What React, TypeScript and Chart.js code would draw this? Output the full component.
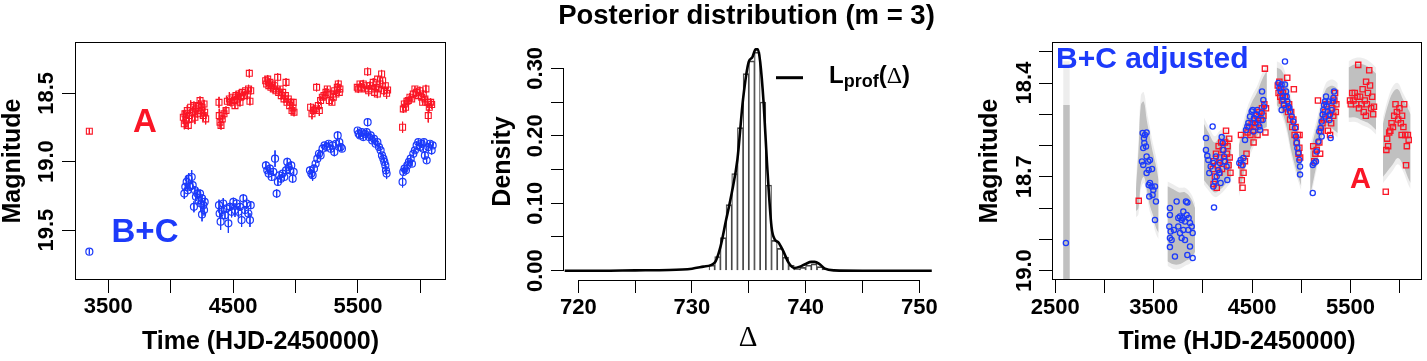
import React, { useEffect, useRef } from 'react';
import { Chart, registerables } from 'chart.js';

Chart.register(...registerables);
Chart.defaults.font.family = '"Liberation Sans", Arial, Helvetica, sans-serif';
Chart.defaults.color = '#000';

const H = 361;
const RED = 'rgb(250,22,38)';
const BLUE = 'rgb(28,58,250)';
const SANS = '"Liberation Sans", Arial, Helvetica, sans-serif';
const SERIF = '"Liberation Serif", "DejaVu Serif", serif';

// ---------------- Left panel: light curves of A and B+C ----------------
const timeA = [3348,
  4101, 4109, 4114, 4122, 4133, 4141, 4149, 4160, 4168, 4176, 4186, 4194, 4202, 4213, 4224, 4235, 4243, 4251, 4261, 4272, 4280, 4267,
  4387, 4389, 4395, 4403, 4413, 4427, 4443, 4454, 4470, 4483, 4496, 4510, 4523, 4534, 4547, 4560, 4574, 4587, 4600, 4614, 4624, 4630, 4635, 4641, 4515, 4555,
  4761, 4769, 4777, 4786, 4795, 4803, 4814, 4822, 4833, 4843, 4857, 4865, 4876, 4886, 4897, 4908, 4919, 4924, 4932, 4942, 4953, 4964, 4972, 4980, 4988, 4982,
  5121, 5132, 5143, 5156, 5169, 5183, 5191, 5201, 5215, 5228, 5244, 5255, 5271, 5282, 5292, 5303, 5314, 5324, 5335, 5343, 5351, 5356,
  5495, 5503, 5517, 5530, 5543, 5557, 5570, 5578, 5586, 5597, 5610, 5623, 5634, 5645, 5656, 5666, 5677, 5690, 5698, 5709, 5720, 5730, 5738, 5658,
  5858, 5864, 5872, 5882, 5893, 5904, 5917, 5931, 5944, 5957, 5971, 5984, 5997, 6011, 6024, 6037, 6045, 6056, 6064, 6072, 6083, 6091, 6019];
const magA = [18.777,
  18.675, 18.723, 18.650, 18.699, 18.626, 18.735, 18.663, 18.602, 18.687, 18.638, 18.590, 18.675, 18.614, 18.650, 18.590, 18.553, 18.626, 18.602, 18.663, 18.638, 18.687, 18.578,
  18.566, 18.663, 18.711, 18.735, 18.687, 18.650, 18.626, 18.558, 18.541, 18.566, 18.529, 18.553, 18.517, 18.541, 18.505, 18.529, 18.493, 18.517, 18.481, 18.505, 18.468, 18.354, 18.558, 18.481, 18.590, 18.566,
  18.408, 18.432, 18.396, 18.444, 18.420, 18.456, 18.432, 18.468, 18.444, 18.481, 18.383, 18.493, 18.468, 18.517, 18.493, 18.541, 18.517, 18.420, 18.566, 18.541, 18.590, 18.566, 18.626, 18.607, 18.638, 18.566,
  18.602, 18.650, 18.626, 18.614, 18.456, 18.590, 18.626, 18.553, 18.529, 18.517, 18.493, 18.468, 18.553, 18.505, 18.566, 18.529, 18.481, 18.505, 18.456, 18.432, 18.493, 18.468,
  18.456, 18.468, 18.432, 18.456, 18.432, 18.468, 18.444, 18.342, 18.481, 18.444, 18.468, 18.420, 18.493, 18.456, 18.505, 18.468, 18.432, 18.359, 18.408, 18.481, 18.444, 18.500, 18.476, 18.396,
  18.748, 18.614, 18.578, 18.602, 18.558, 18.553, 18.529, 18.541, 18.505, 18.468, 18.493, 18.517, 18.481, 18.529, 18.505, 18.541, 18.468, 18.566, 18.663, 18.602, 18.566, 18.582, 18.566];
const errA = [0.02,
  0.05, 0.04, 0.03, 0.05, 0.04, 0.03, 0.04, 0.05, 0.03, 0.04, 0.03, 0.05, 0.04, 0.03, 0.04, 0.03, 0.05, 0.03, 0.04, 0.03, 0.04, 0.03,
  0.04, 0.05, 0.04, 0.03, 0.03, 0.04, 0.03, 0.03, 0.05, 0.03, 0.02, 0.03, 0.03, 0.04, 0.03, 0.03, 0.02, 0.03, 0.03, 0.04, 0.03, 0.03, 0.03, 0.03, 0.02, 0.03,
  0.03, 0.02, 0.03, 0.02, 0.03, 0.03, 0.02, 0.03, 0.03, 0.02, 0.03, 0.03, 0.02, 0.03, 0.02, 0.03, 0.03, 0.03, 0.02, 0.03, 0.02, 0.03, 0.03, 0.02, 0.03, 0.02,
  0.03, 0.04, 0.03, 0.03, 0.03, 0.03, 0.04, 0.03, 0.02, 0.03, 0.03, 0.02, 0.03, 0.03, 0.02, 0.03, 0.03, 0.02, 0.03, 0.03, 0.02, 0.03,
  0.02, 0.03, 0.02, 0.03, 0.03, 0.02, 0.02, 0.03, 0.04, 0.03, 0.02, 0.03, 0.03, 0.02, 0.03, 0.02, 0.03, 0.03, 0.02, 0.03, 0.02, 0.04, 0.02, 0.02,
  0.04, 0.03, 0.03, 0.03, 0.03, 0.02, 0.03, 0.02, 0.03, 0.02, 0.03, 0.02, 0.03, 0.02, 0.03, 0.02, 0.03, 0.04, 0.05, 0.03, 0.03, 0.03, 0.02];

const timeBC = [3348,
  4109, 4117, 4128, 4136, 4144, 4154, 4168, 4176, 4186, 4194, 4202, 4213, 4224, 4235, 4243, 4251, 4261, 4267, 4251, 4272,
  4387, 4392, 4400, 4408, 4421, 4435, 4448, 4462, 4475, 4488, 4502, 4515, 4528, 4542, 4555, 4568, 4582, 4595, 4608, 4622, 4635, 4641,
  4763, 4774, 4785, 4795, 4809, 4822, 4836, 4849, 4859, 4870, 4883, 4897, 4910, 4924, 4934, 4945, 4956, 4966, 4977, 4985,
  5116, 5127, 5137, 5148, 5161, 5175, 5188, 5201, 5217, 5233, 5249, 5266, 5282, 5298, 5311, 5324, 5338, 5351, 5362, 5372,
  5498, 5506, 5517, 5530, 5543, 5557, 5570, 5578, 5589, 5602, 5615, 5629, 5642, 5656, 5669, 5682, 5693, 5704, 5712, 5720, 5725, 5730,
  5858, 5864, 5874, 5885, 5896, 5909, 5923, 5933, 5944, 5957, 5971, 5984, 5997, 6011, 6024, 6037, 6051, 6064, 6078, 6091, 6099, 6029];
const magBC = [19.658,
  19.233, 19.184, 19.148, 19.209, 19.124, 19.184, 19.112, 19.172, 19.330, 19.209, 19.257, 19.233, 19.282, 19.233, 19.306, 19.269, 19.318, 19.354, 19.386, 19.294,
  19.318, 19.379, 19.439, 19.354, 19.306, 19.391, 19.342, 19.451, 19.330, 19.367, 19.294, 19.354, 19.306, 19.367, 19.330, 19.427, 19.269, 19.354, 19.306, 19.379, 19.427, 19.318,
  19.027, 19.063, 19.087, 19.051, 19.112, 19.075, 18.978, 19.233, 19.148, 19.100, 19.124, 19.087, 19.112, 19.063, 19.002, 19.039, 19.063, 19.027, 19.124, 19.075,
  19.063, 19.087, 19.100, 19.051, 19.015, 18.978, 18.942, 18.954, 18.905, 18.881, 18.893, 18.869, 18.905, 18.881, 18.930, 18.869, 18.808, 18.857, 18.893, 18.905,
  18.772, 18.796, 18.808, 18.784, 18.820, 18.796, 18.784, 18.711, 18.820, 18.808, 18.845, 18.833, 18.869, 18.857, 18.893, 18.917, 18.954, 18.978, 19.002, 19.027, 19.063, 19.087,
  19.148, 19.075, 19.051, 19.063, 19.027, 19.002, 18.978, 19.015, 18.942, 18.917, 18.881, 18.857, 18.893, 18.869, 18.905, 18.954, 18.990, 18.893, 18.869, 18.917, 18.881, 18.857];
const errBC = [0.02,
  0.04, 0.03, 0.05, 0.03, 0.04, 0.03, 0.05, 0.03, 0.04, 0.03, 0.03, 0.04, 0.03, 0.03, 0.04, 0.03, 0.03, 0.04, 0.05, 0.03,
  0.04, 0.03, 0.06, 0.03, 0.04, 0.03, 0.03, 0.07, 0.03, 0.04, 0.03, 0.05, 0.03, 0.04, 0.03, 0.05, 0.03, 0.03, 0.04, 0.03, 0.05, 0.03,
  0.03, 0.02, 0.03, 0.03, 0.02, 0.03, 0.06, 0.03, 0.03, 0.02, 0.03, 0.03, 0.02, 0.03, 0.03, 0.02, 0.03, 0.03, 0.03, 0.02,
  0.03, 0.03, 0.04, 0.03, 0.02, 0.03, 0.03, 0.02, 0.03, 0.02, 0.03, 0.02, 0.03, 0.02, 0.03, 0.02, 0.03, 0.02, 0.03, 0.02,
  0.02, 0.03, 0.02, 0.03, 0.02, 0.02, 0.03, 0.03, 0.02, 0.03, 0.02, 0.03, 0.02, 0.03, 0.02, 0.03, 0.02, 0.03, 0.02, 0.03, 0.03, 0.04,
  0.04, 0.03, 0.03, 0.02, 0.03, 0.02, 0.03, 0.02, 0.03, 0.02, 0.03, 0.02, 0.02, 0.03, 0.02, 0.03, 0.02, 0.03, 0.02, 0.03, 0.02, 0.02];

const xTicksLeft = [3500, 4000, 4500, 5000, 5500, 6000];
const xLabelsLeft = [3500, 4500, 5500];
const yTicksLeft = [18.5, 19.0, 19.5];
const yLabelsLeft = ['18.5', '19.0', '19.5'];

// ---------------- Middle panel: posterior of the delay ----------------
const histCenters = [731.75, 732.25, 732.75, 733.25, 733.75, 734.25, 734.75, 735.25, 735.75, 736.25, 736.75,
  737.25, 737.75, 738.25, 738.75, 739.25, 739.75, 740.25, 740.75, 741.25, 741.75];
const histDensity = [0.008, 0.021, 0.049, 0.098, 0.144, 0.212, 0.292, 0.311, 0.324, 0.250, 0.127,
  0.045, 0.033, 0.020, 0.008, 0.003, 0.005, 0.008, 0.010, 0.006, 0.002];
const profDelta = [718.8, 722, 725, 728, 730, 731, 732, 732.5, 733, 733.5, 734, 734.5, 735, 735.3, 735.6, 735.8,
  736, 736.3, 736.6, 737, 737.3, 737.6, 738, 738.5, 739, 739.5, 740, 740.5, 740.8, 741.2, 741.7, 742.5, 745, 751.1];
const profDensity = [0, 0, 0.0005, 0.001, 0.003, 0.006, 0.012, 0.035, 0.075, 0.115, 0.165, 0.255, 0.31, 0.316, 0.328, 0.328,
  0.31, 0.25, 0.16, 0.065, 0.046, 0.042, 0.03, 0.012, 0.004, 0.006, 0.01, 0.013, 0.013, 0.01, 0.003, 0.0005, 0, 0];

const xTicksMid = [720, 725, 730, 735, 740, 745, 750];
const xLabelsMid = [720, 730, 740, 750];
const yTicksMid = [0, 0.05, 0.10, 0.15, 0.20, 0.25, 0.30];
const yLabelsMid = ['0.00', '', '0.10', '', '0.20', '', '0.30'];

// ---------------- Right panel: A and shifted / adjusted B+C ----------------
const timeBCadj = [2608,
  3388, 3401, 3411, 3428, 3394, 3422, 3405, 3381, 3394, 3428, 3445, 3462, 3449, 3483, 3462, 3449, 3479, 3496, 3513, 3455, 3489, 3523, 3513, 3428,
  3665, 3665, 3659, 3672, 3665, 3665, 3682, 3716, 3733, 3750, 3767, 3784, 3801, 3818, 3828, 3842, 3801, 3767, 3784, 3818, 3852, 3869, 3886, 3896, 3842, 3869, 3896, 3750, 3835, 3794, 3855, 3706,
  4031, 4031, 4045, 4055, 4065, 4079, 4099, 4106, 4123, 4106, 4113, 4140, 4157, 4174, 4191, 4201, 4208, 4214, 4225, 4241, 4248, 4180, 4133, 4167,
  4370, 4384, 4404, 4411, 4428, 4438, 4452, 4462, 4479, 4496, 4506, 4519, 4540, 4553, 4563, 4573, 4580, 4597, 4607, 4614, 4621, 4601, 4529, 4513,
  4767, 4777, 4790, 4800, 4811, 4817, 4834, 4834, 4845, 4851, 4858, 4868, 4878, 4885, 4902, 4919, 4936, 4946, 4953, 4960, 4970, 4980, 4987, 4987, 4800, 4824,
  5116, 5116, 5129, 5149, 5156, 5173, 5183, 5197, 5207, 5207, 5217, 5224, 5231, 5241, 5251, 5258, 5268, 5278, 5292, 5298, 5309, 5319, 5326, 5332, 5285, 5244];
const magBCadj = [18.912,
  18.560, 18.577, 18.566, 18.558, 18.608, 18.603, 18.592, 18.651, 18.662, 18.635, 18.651, 18.646, 18.678, 18.675, 18.720, 18.726, 18.731, 18.742, 18.731, 18.763, 18.758, 18.779, 18.838, 18.688,
  18.800, 18.822, 18.859, 18.875, 18.896, 18.925, 18.902, 18.955, 18.779, 18.832, 18.827, 18.838, 18.811, 18.843, 18.779, 18.782, 18.870, 18.880, 18.896, 18.902, 18.870, 18.848, 18.859, 18.880, 18.950, 18.923, 18.960, 18.859, 18.822, 18.832, 18.832, 18.870,
  18.576, 18.614, 18.633, 18.646, 18.688, 18.667, 18.539, 18.656, 18.715, 18.731, 18.798, 18.699, 18.678, 18.656, 18.573, 18.592, 18.614, 18.635, 18.651, 18.667, 18.710, 18.720, 18.635, 18.688,
  18.656, 18.646, 18.662, 18.640, 18.582, 18.550, 18.539, 18.528, 18.507, 18.491, 18.486, 18.512, 18.501, 18.486, 18.518, 18.539, 18.550, 18.496, 18.518, 18.454, 18.475, 18.427, 18.528, 18.555,
  18.400, 18.416, 18.427, 18.405, 18.443, 18.454, 18.331, 18.405, 18.427, 18.443, 18.459, 18.475, 18.480, 18.491, 18.507, 18.523, 18.544, 18.571, 18.592, 18.608, 18.624, 18.646, 18.667, 18.693, 18.486, 18.470,
  18.752, 18.662, 18.656, 18.651, 18.619, 18.587, 18.555, 18.544, 18.523, 18.571, 18.501, 18.486, 18.470, 18.459, 18.443, 18.475, 18.491, 18.459, 18.501, 18.576, 18.486, 18.459, 18.448, 18.427, 18.518, 18.507];

// posterior envelope of the latent light curve, one entry per observing season
const bandTimes = [
  [2580, 2614, 2648],
  [3320, 3345, 3370, 3400, 3430, 3460, 3490, 3520, 3550],
  [3640, 3700, 3760, 3820, 3880, 3920],
  [4010, 4060, 4120, 4180, 4240, 4290],
  [4365, 4400, 4450, 4500, 4550, 4600, 4650],
  [4750, 4800, 4850, 4900, 4950, 5000],
  [5090, 5130, 5170, 5210, 5250, 5290, 5330, 5370],
  [5480, 5550, 5620, 5690, 5760],
  [5830, 5880, 5930, 5980, 6030, 6080, 6110]];
const bandUpper = [
  [18.47, 18.47, 18.47],
  [18.74, 18.62, 18.47, 18.46, 18.52, 18.57, 18.62, 18.66, 18.71],
  [18.73, 18.74, 18.75, 18.75, 18.77, 18.80],
  [18.53, 18.56, 18.59, 18.57, 18.57, 18.60],
  [18.60, 18.56, 18.50, 18.46, 18.43, 18.39, 18.36],
  [18.35, 18.36, 18.40, 18.47, 18.55, 18.61],
  [18.62, 18.57, 18.52, 18.46, 18.42, 18.41, 18.41, 18.42],
  [18.35, 18.34, 18.34, 18.35, 18.37],
  [18.53, 18.47, 18.43, 18.42, 18.45, 18.48, 18.50]];
const bandLower = [
  [19.05, 19.05, 19.05],
  [18.81, 18.80, 18.72, 18.70, 18.74, 18.79, 18.82, 18.86, 18.88],
  [18.97, 18.98, 18.98, 18.97, 18.96, 18.94],
  [18.71, 18.73, 18.75, 18.74, 18.72, 18.70],
  [18.75, 18.71, 18.64, 18.60, 18.57, 18.55, 18.54],
  [18.47, 18.49, 18.54, 18.62, 18.68, 18.73],
  [18.76, 18.70, 18.64, 18.57, 18.54, 18.54, 18.55, 18.56],
  [18.51, 18.51, 18.52, 18.53, 18.55],
  [18.70, 18.68, 18.66, 18.64, 18.66, 18.70, 18.72]];
const bandHaloUp = [0.14, 0.03, 0.015, 0.02, 0.02, 0.02, 0.02, 0.02, 0.02];
const bandHaloDown = [0, 0.02, 0.015, 0.015, 0.015, 0.015, 0.015, 0.015, 0.02];

const xTicksRight = [2500, 3000, 3500, 4000, 4500, 5000, 5500, 6000];
const xLabelsRight = [2500, 3500, 4500, 5500];
const yTicksRight = [18.3, 18.4, 18.5, 18.6, 18.7, 18.8, 18.9, 19.0];
const yLabelsRight = ['', '18.4', '', '', '18.7', '', '', '19.0'];

// ---------------- helpers ----------------
const pts = (t: number[], m: number[]) => t.map((x, i) => ({ x, y: m[i] }));
const errSegments = (t: number[], m: number[], e: number[]) => {
  const out: any[] = [];
  t.forEach((x, i) => {
    const d = e[i] ?? 0.03;
    out.push({ x, y: m[i] - d }, { x, y: m[i] + d }, { x, y: null });
  });
  return out;
};

const rPlugin = {
  id: 'rStyle',
  afterDraw(chart: any, _a: any, o: any) {
    const { ctx, chartArea: ca } = chart;
    ctx.save();
    ctx.strokeStyle = '#000';
    ctx.lineWidth = 1;
    if (o.box) {
      ctx.strokeRect(Math.round(ca.left) - 0.5, Math.round(ca.top) - 0.5, Math.round(ca.right - ca.left) + 1, Math.round(ca.bottom - ca.top) + 1);
    }
    const xs = chart.scales.x;
    const ys = chart.scales.y;
    if (o.axisLines) {
      const x0 = xs.getPixelForValue(xs.ticks[0].value);
      const x1 = xs.getPixelForValue(xs.ticks[xs.ticks.length - 1].value);
      const yb = Math.round(ca.bottom) + 0.5;
      ctx.beginPath(); ctx.moveTo(x0, yb); ctx.lineTo(x1, yb); ctx.stroke();
      const y0 = ys.getPixelForValue(ys.ticks[0].value);
      const y1 = ys.getPixelForValue(ys.ticks[ys.ticks.length - 1].value);
      const xl = Math.round(ca.left) - 0.5;
      ctx.beginPath(); ctx.moveTo(xl, y0); ctx.lineTo(xl, y1); ctx.stroke();
    }
    ctx.fillStyle = '#000';
    ctx.font = `bold 22px ${SANS}`;
    ctx.textAlign = 'center';
    ctx.textBaseline = 'middle';
    ys.ticks.forEach((t: any, i: number) => {
      const lab = o.yLabels[i];
      if (!lab) return;
      const py = ys.getPixelForValue(t.value);
      ctx.save();
      ctx.translate(o.yLabelX, py);
      ctx.rotate(-Math.PI / 2);
      ctx.fillText(lab, 0, 0);
      ctx.restore();
    });
    ctx.textBaseline = 'alphabetic';
    (o.texts || []).forEach((t: any) => {
      ctx.fillStyle = t.color || '#000';
      ctx.font = t.font;
      ctx.textAlign = t.align || 'left';
      ctx.fillText(t.text, t.x, t.y);
    });
    (o.lines || []).forEach((l: any) => {
      ctx.strokeStyle = '#000';
      ctx.lineWidth = l.w;
      ctx.beginPath(); ctx.moveTo(l.x0, l.y); ctx.lineTo(l.x1, l.y); ctx.stroke();
    });
    (o.runs || []).forEach((r: any) => {
      let x = r.x;
      ctx.textAlign = 'left';
      ctx.fillStyle = '#000';
      r.parts.forEach((p: any) => {
        ctx.font = p.font;
        ctx.fillText(p.text, x, r.y + (p.dy || 0));
        x += ctx.measureText(p.text).width + (p.gap || 0);
      });
    });
    ctx.restore();
  },
};

const fixedTicks = (values: number[]) => (scale: any) => {
  scale.ticks = values.map((v) => ({ value: v }));
};

function xScale(min: number, max: number, ticks: number[], labels: number[], height: number, tickLen: number,
  pad: number, title: string, titleFont: any, titlePad: any) {
  return {
    type: 'linear', min, max, offset: false,
    afterBuildTicks: fixedTicks(ticks),
    afterFit: (s: any) => { s.height = height; },
    border: { display: false },
    grid: { drawOnChartArea: false, drawTicks: true, tickLength: tickLen, color: '#000', lineWidth: 1, offset: false },
    ticks: {
      autoSkip: false, maxRotation: 0, minRotation: 0, padding: pad, color: '#000',
      font: { size: 22, weight: 'bold' },
      callback: (v: any) => (labels.includes(v) ? String(v) : ''),
    },
    title: { display: true, text: title, font: titleFont, color: '#000', padding: titlePad },
  };
}

function yScale(min: number, max: number, ticks: number[], width: number, tickLen: number, reverse: boolean,
  title: string, titlePadTop: number) {
  return {
    type: 'linear', min, max, reverse,
    afterBuildTicks: fixedTicks(ticks),
    afterFit: (s: any) => { s.width = width; },
    border: { display: false },
    grid: { drawOnChartArea: false, drawTicks: true, tickLength: tickLen, color: '#000', lineWidth: 1 },
    ticks: { display: false },
    title: {
      display: true, text: title, color: '#000',
      font: { size: 25, weight: 'bold', lineHeight: 1 },
      padding: { top: titlePadTop, bottom: 0 },
    },
  };
}

const baseOptions = (padding: any) => ({
  responsive: false,
  animation: false,
  events: [],
  layout: { padding },
  plugins: { legend: { display: false }, tooltip: { enabled: false }, title: { display: false } },
});

const timeTitleFont = { size: 25, weight: 'bold', lineHeight: 1.2 };

function buildLeft() {
  return {
    type: 'line',
    data: {
      datasets: [
        { data: pts(timeA, magA), showLine: false, pointStyle: 'rect', pointRadius: 4.2, pointBorderWidth: 1.1,
          pointBorderColor: RED, pointBackgroundColor: 'rgba(0,0,0,0)', order: 0 },
        { data: errSegments(timeA, magA, errA), borderColor: RED, borderWidth: 1, pointRadius: 0, spanGaps: false, order: 1 },
        { data: pts(timeBC, magBC), showLine: false, pointStyle: 'circle', pointRadius: 3.5, pointBorderWidth: 1.2,
          pointBorderColor: BLUE, pointBackgroundColor: 'rgba(0,0,0,0)', order: 0 },
        { data: errSegments(timeBC, magBC, errBC), borderColor: BLUE, borderWidth: 1, pointRadius: 0, spanGaps: false, order: 1 },
      ],
    },
    options: {
      ...baseOptions({ top: 43, right: 35, left: 0, bottom: 0 }),
      scales: {
        x: xScale(3241, 6198, xTicksLeft, xLabelsLeft, 82, 14, 1, 'Time (HJD-2450000)', timeTitleFont, { top: 0, bottom: 4 }),
        y: yScale(18.132, 19.858, yTicksLeft, 76, 14, true, 'Magnitude', 1),
      },
      plugins: {
        ...baseOptions({}).plugins,
        rStyle: {
          box: true, yLabels: yLabelsLeft, yLabelX: 47,
          texts: [
            { text: 'A', x: 145, y: 131.5, align: 'center', color: RED, font: `bold 33px ${SANS}` },
            { text: 'B+C', x: 145, y: 241.5, align: 'center', color: BLUE, font: `bold 33px ${SANS}` },
          ],
        },
      },
    },
    plugins: [rPlugin],
  };
}

function buildMid() {
  return {
    type: 'bar',
    data: {
      datasets: [
        { type: 'line', data: pts(profDelta, profDensity), borderColor: '#000', borderWidth: 2.6, pointRadius: 0,
          cubicInterpolationMode: 'monotone', fill: false, order: 0 },
        { type: 'bar', data: pts(histCenters, histDensity), backgroundColor: 'rgba(255,255,255,0)', borderColor: 'rgb(70,70,70)',
          borderWidth: { top: 1, left: 0.5, right: 0.5, bottom: 0 }, barPercentage: 1, categoryPercentage: 1, order: 1 },
      ],
    },
    options: {
      ...baseOptions({ top: 43, right: 18, left: 0, bottom: 0 }),
      scales: {
        x: xScale(718.74, 751.12, xTicksMid, xLabelsMid, 81, 13, 2, 'Δ',
          { family: SERIF, size: 29, weight: 'normal', lineHeight: 1 }, { top: 0, bottom: 8 }),
        y: { ...yScale(-0.0138, 0.3375, yTicksMid, 84, 13, false, 'Density', 10.5), beginAtZero: false },
      },
      plugins: {
        ...baseOptions({}).plugins,
        rStyle: {
          box: false, axisLines: true, yLabels: yLabelsMid, yLabelX: 56,
          texts: [
            { text: 'Posterior distribution (m = 3)', x: 266.5, y: 24, align: 'center', color: '#000', font: `bold 27.5px ${SANS}` },
          ],
          lines: [{ x0: 296, x1: 323, y: 77.7, w: 3 }],
          runs: [{
            x: 349, y: 83,
            parts: [
              { text: 'L', font: `bold 24px ${SANS}` },
              { text: 'prof', font: `bold 18px ${SANS}`, dy: 4 },
              { text: '(', font: `bold 24px ${SANS}` },
              { text: 'Δ', font: `24px ${SERIF}` },
              { text: ')', font: `bold 24px ${SANS}` },
            ],
          }],
        },
      },
    },
    plugins: [rPlugin],
  };
}

function buildRight() {
  const bandSets: any[] = [];
  bandTimes.forEach((ts, k) => {
    const hu = bandHaloUp[k];
    const hd = bandHaloDown[k];
    const common = { pointRadius: 0, borderWidth: 0, borderColor: 'rgba(0,0,0,0)', tension: 0.4, showLine: true };
    bandSets.push({ ...common, data: ts.map((x, i) => ({ x, y: bandUpper[k][i] - hu })), fill: '+1', backgroundColor: 'rgba(190,190,190,0.28)', order: 20 });
    bandSets.push({ ...common, data: ts.map((x, i) => ({ x, y: bandLower[k][i] + hd })), fill: false, order: 20 });
    bandSets.push({ ...common, data: ts.map((x, i) => ({ x, y: bandUpper[k][i] })), fill: '+1', backgroundColor: 'rgb(192,192,192)', order: 10 });
    bandSets.push({ ...common, data: ts.map((x, i) => ({ x, y: bandLower[k][i] })), fill: false, order: 10 });
  });
  return {
    type: 'line',
    data: {
      datasets: [
        { data: pts(timeA, magA), showLine: false, pointStyle: 'rect', pointRadius: 3.7, pointBorderWidth: 1.3,
          pointBorderColor: RED, pointBackgroundColor: 'rgba(0,0,0,0)', order: 1 },
        { data: pts(timeBCadj, magBCadj), showLine: false, pointStyle: 'circle', pointRadius: 2.6, pointBorderWidth: 1.3,
          pointBorderColor: BLUE, pointBackgroundColor: 'rgba(0,0,0,0)', order: 0 },
        ...bandSets,
      ],
    },
    options: {
      ...baseOptions({ top: 43, right: 6, left: 0, bottom: 0 }),
      scales: {
        x: xScale(2477, 6216, xTicksRight, xLabelsRight, 82, 14, 2, 'Time (HJD-2450000)', timeTitleFont, { top: 0, bottom: 4 }),
        y: yScale(18.272, 19.027, yTicksRight, 103, 14, true, 'Magnitude', 27.5),
      },
      plugins: {
        ...baseOptions({}).plugins,
        filler: { propagate: false },
        rStyle: {
          box: true, yLabels: yLabelsRight, yLabelX: 74.7,
          texts: [
            { text: 'B+C adjusted', x: 106, y: 68, align: 'left', color: BLUE, font: `bold 30px ${SANS}` },
            { text: 'A', x: 410.5, y: 188, align: 'center', color: RED, font: `bold 29px ${SANS}` },
          ],
        },
      },
    },
    plugins: [rPlugin],
  };
}

function Panel({ left, width, build }: { left: number; width: number; build: () => any }) {
  const ref = useRef<HTMLCanvasElement>(null);
  useEffect(() => {
    const chart = new Chart(ref.current as HTMLCanvasElement, build());
    return () => chart.destroy();
  }, []);
  return (
    <canvas ref={ref} width={width} height={H}
      style={{ position: 'absolute', left, top: 0, width, height: H, display: 'block' }} />
  );
}

export default function App() {
  return (
    <div style={{ position: 'fixed', left: 0, top: 0, width: 1427, height: H, background: '#fff', overflow: 'hidden' }}>
      <Panel left={0} width={480} build={buildLeft} />
      <Panel left={480} width={470} build={buildMid} />
      <Panel left={950} width={477} build={buildRight} />
    </div>
  );
}
